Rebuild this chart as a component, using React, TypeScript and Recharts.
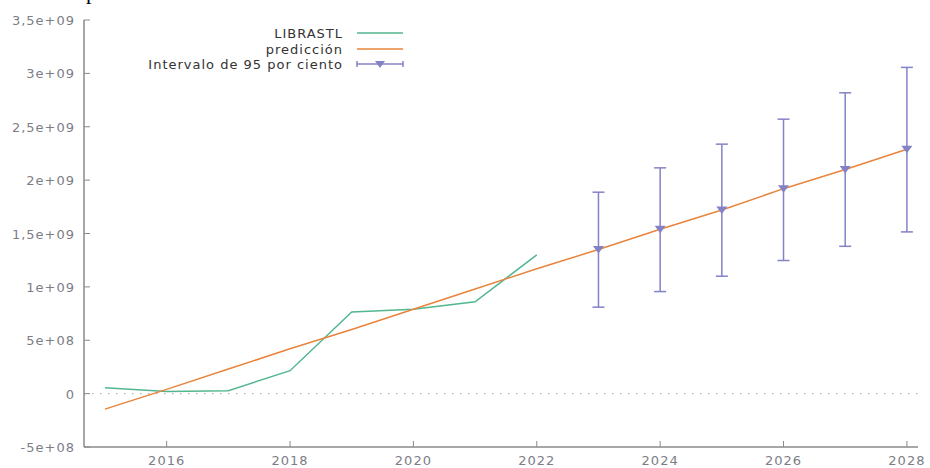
import { LineChart, Line, XAxis, YAxis, ReferenceLine, ErrorBar } from 'recharts';

// observed series (gretl forecast plot)
const obsYears = [2015, 2016, 2017, 2018, 2019, 2020, 2021, 2022];
const librastl = [0.055e9, 0.02e9, 0.028e9, 0.215e9, 0.765e9, 0.79e9, 0.86e9, 1.3e9];

// fitted / forecast line
const predYears = [2015, 2016, 2017, 2018, 2019, 2020, 2021, 2022, 2023, 2024, 2025, 2026, 2027, 2028];
const prediccion = [-0.145e9, 0.04e9, 0.23e9, 0.42e9, 0.6e9, 0.79e9, 0.98e9, 1.17e9, 1.35e9, 1.54e9, 1.72e9, 1.92e9, 2.1e9, 2.29e9];

// 95% interval
const intYears = [2023, 2024, 2025, 2026, 2027, 2028];
const intLow = [0.81e9, 0.956e9, 1.1e9, 1.247e9, 1.38e9, 1.515e9];
const intHigh = [1.887e9, 2.115e9, 2.337e9, 2.571e9, 2.818e9, 3.056e9];

const xTicks = [2016, 2018, 2020, 2022, 2024, 2026, 2028];
const yTicks = [-5e8, 0, 5e8, 1e9, 1.5e9, 2e9, 2.5e9, 3e9, 3.5e9];

const legendNames = ['LIBRASTL', 'predicción', 'Intervalo de 95 por ciento'];

const GREEN = '#52b68f';
const ORANGE = '#e8843c';
const PURPLE = '#8482c6';
const AXIS = '#8a8a8a';
const TICK_TEXT = '#7d7d86';
const FONT = '"DejaVu Sans", Verdana, sans-serif';

const rows = predYears.map((year, i) => {
  const row: any = { year, pred: prediccion[i] };
  const oi = obsYears.indexOf(year);
  if (oi >= 0) row.obs = librastl[oi];
  const ii = intYears.indexOf(year);
  if (ii >= 0) {
    row.mid = prediccion[i];
    row.err = [prediccion[i] - intLow[ii], intHigh[ii] - prediccion[i]];
  }
  return row;
});

function fmtSci(v: number) {
  if (v === 0) return '0';
  const sign = v < 0 ? '-' : '';
  const a = Math.abs(v);
  const exp = Math.floor(Math.log10(a));
  const m = +(a / Math.pow(10, exp)).toFixed(3);
  return `${sign}${String(m).replace('.', ',')}e+${String(exp).padStart(2, '0')}`;
}

const YTick = (props: any) => {
  const { x, y, payload } = props;
  const ax = x + 8;
  return (
    <g>
      <line x1={ax} x2={ax + 6} y1={y} y2={y} stroke={AXIS} strokeWidth={1} />
      <text x={x - 1} y={y} dy={5} textAnchor="end" fill={TICK_TEXT} fontSize={13} letterSpacing={1} fontFamily={FONT}>
        {fmtSci(payload.value)}
      </text>
    </g>
  );
};

const XTick = (props: any) => {
  const { x, y, payload } = props;
  const ay = y - 8;
  return (
    <g>
      <line x1={x} x2={x} y1={ay} y2={ay - 6} stroke={AXIS} strokeWidth={1} />
      <text x={x} y={ay + 18} textAnchor="middle" fill={TICK_TEXT} fontSize={13} letterSpacing={1} fontFamily={FONT}>
        {payload.value}
      </text>
    </g>
  );
};

const TriangleDot = (props: any) => {
  const { cx, cy, index } = props;
  if (cx == null || cy == null || props.value == null) return <g key={index} />;
  return <polygon key={index} points={`${cx - 5.5},${cy - 3.5} ${cx + 5.5},${cy - 3.5} ${cx},${cy + 4}`} fill={PURPLE} />;
};

function LegendOverlay() {
  const textRight = 343;
  const x1 = 357;
  const x2 = 403;
  const rowsY = [33, 49, 64];
  const colors = [GREEN, ORANGE, PURPLE];
  return (
    <svg width={930} height={80} style={{ position: 'absolute', left: 0, top: 0, pointerEvents: 'none' }}>
      {/* cut-off text of the page above the figure */}
      <text x={86} y={-1} fontFamily='"Liberation Serif", serif' fontSize={22} fill="#000">p</text>
      {legendNames.map((name, i) => (
        <g key={name}>
          <text x={textRight} y={rowsY[i]} dy={5} textAnchor="end" fill="#333" fontSize={13} letterSpacing={1} fontFamily={FONT}>
            {name}
          </text>
          <line x1={x1} x2={x2} y1={rowsY[i]} y2={rowsY[i]} stroke={colors[i]} strokeWidth={1.5} />
          {i === 2 && (
            <g>
              <line x1={x1} x2={x1} y1={rowsY[i] - 3} y2={rowsY[i] + 3} stroke={PURPLE} strokeWidth={1.5} />
              <line x1={x2} x2={x2} y1={rowsY[i] - 3} y2={rowsY[i] + 3} stroke={PURPLE} strokeWidth={1.5} />
              <polygon points={`${(x1 + x2) / 2 - 5},${rowsY[i] - 3} ${(x1 + x2) / 2 + 5},${rowsY[i] - 3} ${(x1 + x2) / 2},${rowsY[i] + 4}`} fill={PURPLE} />
            </g>
          )}
        </g>
      ))}
    </svg>
  );
}

export default function App() {
  return (
    <div style={{ position: 'absolute', left: 0, top: 0, width: 930, height: 468, background: '#fff' }}>
      <LineChart width={930} height={468} data={rows} margin={{ top: 20, right: 12, left: 0, bottom: 0 }}>
        <XAxis
          dataKey="year"
          type="number"
          domain={[2014.66, 2028.18]}
          allowDataOverflow
          ticks={xTicks}
          height={21}
          axisLine={{ stroke: AXIS, strokeWidth: 1.5 }}
          tickLine={false}
          tick={<XTick />}
          interval={0}
        />
        <YAxis
          type="number"
          domain={[-5e8, 3.5e9]}
          allowDataOverflow
          ticks={yTicks}
          width={84}
          axisLine={{ stroke: AXIS, strokeWidth: 1.5 }}
          tickLine={false}
          tick={<YTick />}
          interval={0}
        />
        <ReferenceLine y={0} stroke="#b5b5b5" strokeDasharray="1.5 6.5" strokeWidth={1.2} />
        <Line
          dataKey="obs"
          stroke={GREEN}
          strokeWidth={1.5}
          dot={false}
          activeDot={false}
          isAnimationActive={false}
        />
        <Line
          dataKey="pred"
          stroke={ORANGE}
          strokeWidth={1.5}
          dot={false}
          activeDot={false}
          isAnimationActive={false}
        />
        <Line
          dataKey="mid"
          stroke="none"
          dot={<TriangleDot />}
          activeDot={false}
          isAnimationActive={false}
        >
          <ErrorBar dataKey="err" width={6} stroke={PURPLE} strokeWidth={1.5} direction="y" />
        </Line>
      </LineChart>
      <LegendOverlay />
    </div>
  );
}
